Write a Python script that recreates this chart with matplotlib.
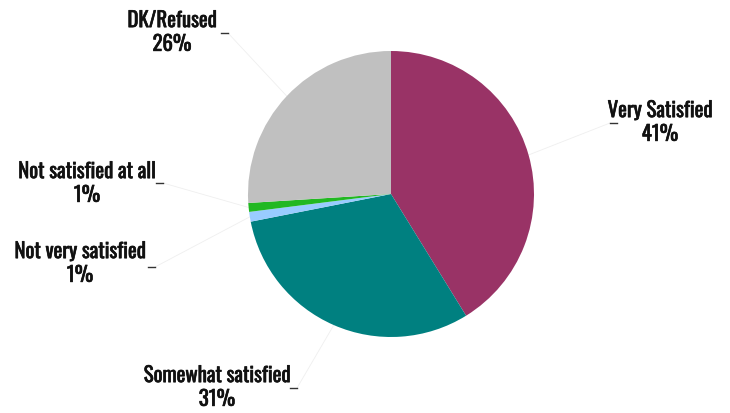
import numpy as np
import matplotlib

matplotlib.use("Agg")
import matplotlib.pyplot as plt
import matplotlib.patheffects as pe

plt.rcParams["font.family"] = ["Oswald", "DejaVu Sans"]

LABELS = ["Very Satisfied", "Somewhat satisfied", "Not very satisfied",
          "Not satisfied at all", "DK/Refused"]
VALUES = [41.2, 30.7, 1.1, 1.0, 26.0]
SHOWN = [41, 31, 1, 1, 26]
COLORS = ["#993366", "#008080", "#99CCFF", "#22B822", "#C0C0C0"]

# label text centre (px, y from top) and tick stub start x, y
TEXT_POS = [(660, 123), (217, 388), (80, 264), (87, 184), (172, 33)]
TICK_POS = [(610, 124), (290, 389), (148, 268), (156, 184), (221, 34)]

W, H = 730, 414
CX, CY, R = 391, 195, 143

fig = plt.figure(figsize=(W / 100, H / 100), dpi=100)
ax = fig.add_axes([0, 0, 1, 1])

wedges, _ = ax.pie(VALUES, colors=COLORS, startangle=90, counterclock=False,
                   center=(CX, H - CY), radius=R, frame=True,
                   wedgeprops=dict(linewidth=0))
ax.set_xlim(0, W)
ax.set_ylim(0, H)
ax.set_aspect("equal")
ax.axis("off")

bold = [pe.withStroke(linewidth=0.45, foreground="#111111")]
for w, lab, val, (tx, ty), (kx, ky) in zip(wedges, LABELS, SHOWN, TEXT_POS, TICK_POS):
    ax.text(tx, H - ty, f"{lab}\n{val}%", ha="center", va="center",
            fontsize=15, linespacing=1.22, color="#111111", path_effects=bold)
    ax.plot([kx, kx + 7], [H - ky, H - ky], color="#333333", lw=1.0)
    mid = np.deg2rad((w.theta1 + w.theta2) / 2)
    px = CX + R * np.cos(mid)
    py = H - CY + R * np.sin(mid)
    sx = kx + 7 if kx < CX else kx
    ax.plot([sx, px], [H - ky, py], color="#EFEFEF", lw=0.6, zorder=0)

fig.savefig("out.png", dpi=100)
